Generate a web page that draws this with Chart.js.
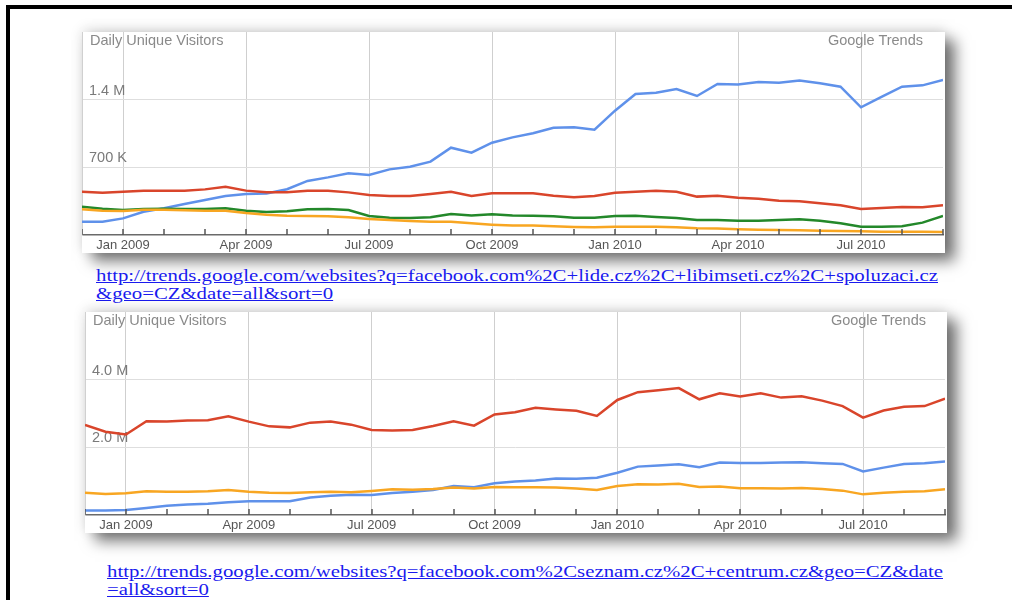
<!DOCTYPE html>
<html>
<head>
<meta charset="utf-8">
<script src="https://cdn.jsdelivr.net/npm/chart.js@4/dist/chart.umd.min.js"></script>
<style>
  html, body { margin: 0; padding: 0; background: #fff; }
  body { width: 1012px; height: 600px; position: relative; overflow: hidden; font-family: "Liberation Sans", Arial, sans-serif; }
  .frame { position: absolute; left: 6px; top: 5px; width: 1002px; height: 591px; border-top: 4px solid #000; border-left: 4px solid #000; }
  .box { position: absolute; background: #fff; box-shadow: 10px 8px 14px rgba(0,0,0,0.55), 0 -3px 12px rgba(0,0,0,0.12); }
  .box canvas { position: absolute; left: 0; top: 0; }
  .lbl { position: absolute; top: 0px; left: 8px; font-size: 14.5px; color: #8a8a8a; }
  .gt { position: absolute; top: 0px; font-size: 14.5px; color: #8a8a8a; }
  .link { position: absolute; font-family: "Liberation Serif", "Times New Roman", serif; font-size: 17px; line-height: 18px; color: #1a1aee; text-decoration: underline; white-space: nowrap; transform-origin: 0 0; }
</style>
</head>
<body>
<div class="frame"></div>

<div class="box" style="left:82px;top:32px;width:863px;height:221px">
  <canvas id="c1" width="863" height="221"></canvas>
  <span class="lbl">Daily Unique Visitors</span>
  <span class="gt" style="right:22px">Google Trends</span>
</div>
<div class="link" id="l1" style="left:96px;top:267px">http://trends.google.com/websites?q=facebook.com%2C+lide.cz%2C+libimseti.cz%2C+spoluzaci.cz<br>&amp;geo=CZ&amp;date=all&amp;sort=0</div>

<div class="box" style="left:85px;top:312px;width:862px;height:221px">
  <canvas id="c2" width="862" height="221"></canvas>
  <span class="lbl">Daily Unique Visitors</span>
  <span class="gt" style="right:21px">Google Trends</span>
</div>
<div class="link" id="l2" style="left:107px;top:563px">http://trends.google.com/websites?q=facebook.com%2Cseznam.cz%2C+centrum.cz&amp;geo=CZ&amp;date<br>=all&amp;sort=0</div>

<script>
// months since Dec 2008, sampled every half month
const months = [0,0.5,1,1.5,2,2.5,3,3.5,4,4.5,5,5.5,6,6.5,7,7.5,8,8.5,9,9.5,10,10.5,
  11,11.5,12,12.5,13,13.5,14,14.5,15,15.5,16,16.5,17,17.5,18,18.5,19,19.5,20,20.5,21];
const quarterMonths = [1,4,7,10,13,16,19];
const quarterNames = ["Jan 2009","Apr 2009","Jul 2009","Oct 2009","Jan 2010","Apr 2010","Jul 2010"];

// chart 1 - thousands of daily unique visitors
const fb1 = [138,138,172,241,276,321,362,403,424,429,474,559,596,638,621,679,707,759,903,852,955,1010,
  1052,1110,1114,1090,1286,1459,1472,1510,1438,1562,1558,1583,1576,1597,1569,1534,1321,1428,1534,1548,1603];
const lide = [448,438,448,459,459,459,472,500,459,441,441,459,459,441,414,403,403,424,448,403,431,431,
  431,407,390,403,438,448,459,448,397,407,386,376,355,348,328,307,269,279,290,286,307];
const spoluzaci = [293,272,259,269,272,269,269,276,252,238,245,266,269,259,197,179,176,183,217,203,214,203,
  200,193,179,179,197,200,186,176,155,155,148,148,155,162,148,121,86,86,90,128,197];
const libimseti = [266,252,248,262,262,255,252,252,228,210,200,197,193,183,166,155,145,138,138,121,107,97,
  97,90,83,79,86,86,86,79,69,66,59,55,52,48,45,41,38,34,34,34,31];
const ticks1 = [700,1400];
const tickNames1 = ["700 K","1.4 M"];

// chart 2 - millions of daily unique visitors
const seznam = [2.66,2.46,2.38,2.77,2.76,2.79,2.80,2.92,2.76,2.62,2.59,2.73,2.76,2.67,2.51,2.50,2.51,2.63,2.77,2.64,2.97,3.04,
  3.17,3.12,3.08,2.93,3.40,3.63,3.69,3.75,3.42,3.60,3.50,3.60,3.47,3.51,3.38,3.22,2.88,3.09,3.20,3.22,3.44];
const fb2 = [0.13,0.13,0.15,0.21,0.27,0.31,0.33,0.38,0.41,0.41,0.41,0.52,0.57,0.60,0.59,0.65,0.69,0.74,0.86,0.82,0.94,0.99,
  1.02,1.08,1.07,1.10,1.25,1.43,1.46,1.50,1.41,1.55,1.54,1.54,1.55,1.56,1.53,1.51,1.29,1.40,1.51,1.53,1.58];
const centrum = [0.66,0.62,0.64,0.70,0.69,0.69,0.70,0.74,0.69,0.66,0.65,0.67,0.69,0.67,0.71,0.76,0.75,0.77,0.81,0.78,0.83,0.82,
  0.82,0.81,0.78,0.74,0.86,0.91,0.90,0.92,0.83,0.84,0.79,0.79,0.78,0.80,0.77,0.72,0.61,0.66,0.69,0.70,0.76];
const ticks2 = [2,4];
const tickNames2 = ["2.0 M","4.0 M"];

const BLUE = "#5f91ea", RED = "#d9452b", GREEN = "#23882a", ORANGE = "#f8a622";

// small tick marks inside the plot, above the x axis
const innerTicks = {
  id: "innerTicks",
  afterDraw(chart) {
    const x = chart.scales.x, ctx = chart.ctx, y0 = chart.chartArea.bottom;
    ctx.save();
    ctx.strokeStyle = "#555";
    ctx.lineWidth = 1.5;
    x.ticks.forEach(t => {
      const px = Math.round(x.getPixelForValue(t.value));
      ctx.beginPath();
      ctx.moveTo(px, y0);
      ctx.lineTo(px, y0 - 6);
      ctx.stroke();
    });
    ctx.restore();
  }
};

function line(data, color) {
  return {
    data: months.map((m, i) => ({ x: m, y: data[i] })),
    borderColor: color, borderWidth: 2.5, pointRadius: 0, tension: 0, fill: false
  };
}

function makeChart(id, datasets, yMax, yTicks, yNames) {
  return new Chart(document.getElementById(id), {
    type: "line",
    data: { datasets },
    plugins: [innerTicks],
    options: {
      responsive: false, animation: false, devicePixelRatio: 1,
      layout: { padding: { left: 0, right: 2, top: 0, bottom: 0 } },
      plugins: { legend: { display: false }, tooltip: { enabled: false } },
      scales: {
        x: {
          type: "linear", min: 0, max: 21,
          afterFit: s => { s.height = 18; s.paddingLeft = 0; s.paddingRight = 0; },
          afterBuildTicks: s => { s.ticks = months.filter(m => m % 1 === 0).map(v => ({ value: v })); },
          ticks: {
            autoSkip: false, maxRotation: 0, padding: 3, color: "#555",
            font: { family: "Liberation Sans", size: 13 },
            callback: v => { const k = quarterMonths.indexOf(v); return k >= 0 ? quarterNames[k] : ""; }
          },
          grid: {
            drawTicks: false, lineWidth: 1,
            color: c => quarterMonths.includes(c.tick && c.tick.value) ? "#cfcfcf" : "rgba(0,0,0,0)"
          },
          border: { display: true, color: "#6a6a6a", width: 1.5 }
        },
        y: {
          min: 0, max: yMax,
          afterFit: s => { s.width = 0; s.paddingTop = 0; s.paddingBottom = 0; },
          afterBuildTicks: s => { s.ticks = yTicks.map(v => ({ value: v })); },
          ticks: {
            mirror: true, padding: 7, labelOffset: -9, color: "#7a7a7a",
            font: { family: "Liberation Sans", size: 14.5 },
            callback: v => yNames[yTicks.indexOf(v)]
          },
          grid: { drawTicks: false, color: "#dedede" },
          border: { display: true, color: "#d0d0d0" }
        }
      }
    }
  });
}

makeChart("c1", [line(libimseti, ORANGE), line(spoluzaci, GREEN), line(lide, RED), line(fb1, BLUE)], 2100, ticks1, tickNames1);
makeChart("c2", [line(centrum, ORANGE), line(fb2, BLUE), line(seznam, RED)], 6, ticks2, tickNames2);

// stretch the link text to the width it has in the slide
function fit(id, w) {
  const el = document.getElementById(id);
  const r = document.createRange();
  r.selectNodeContents(el.firstChild);
  const cur = r.getBoundingClientRect().width;
  el.style.transform = "scaleX(" + (w / cur) + ")";
}
fit("l1", 842);
fit("l2", 836);
</script>
</body>
</html>
